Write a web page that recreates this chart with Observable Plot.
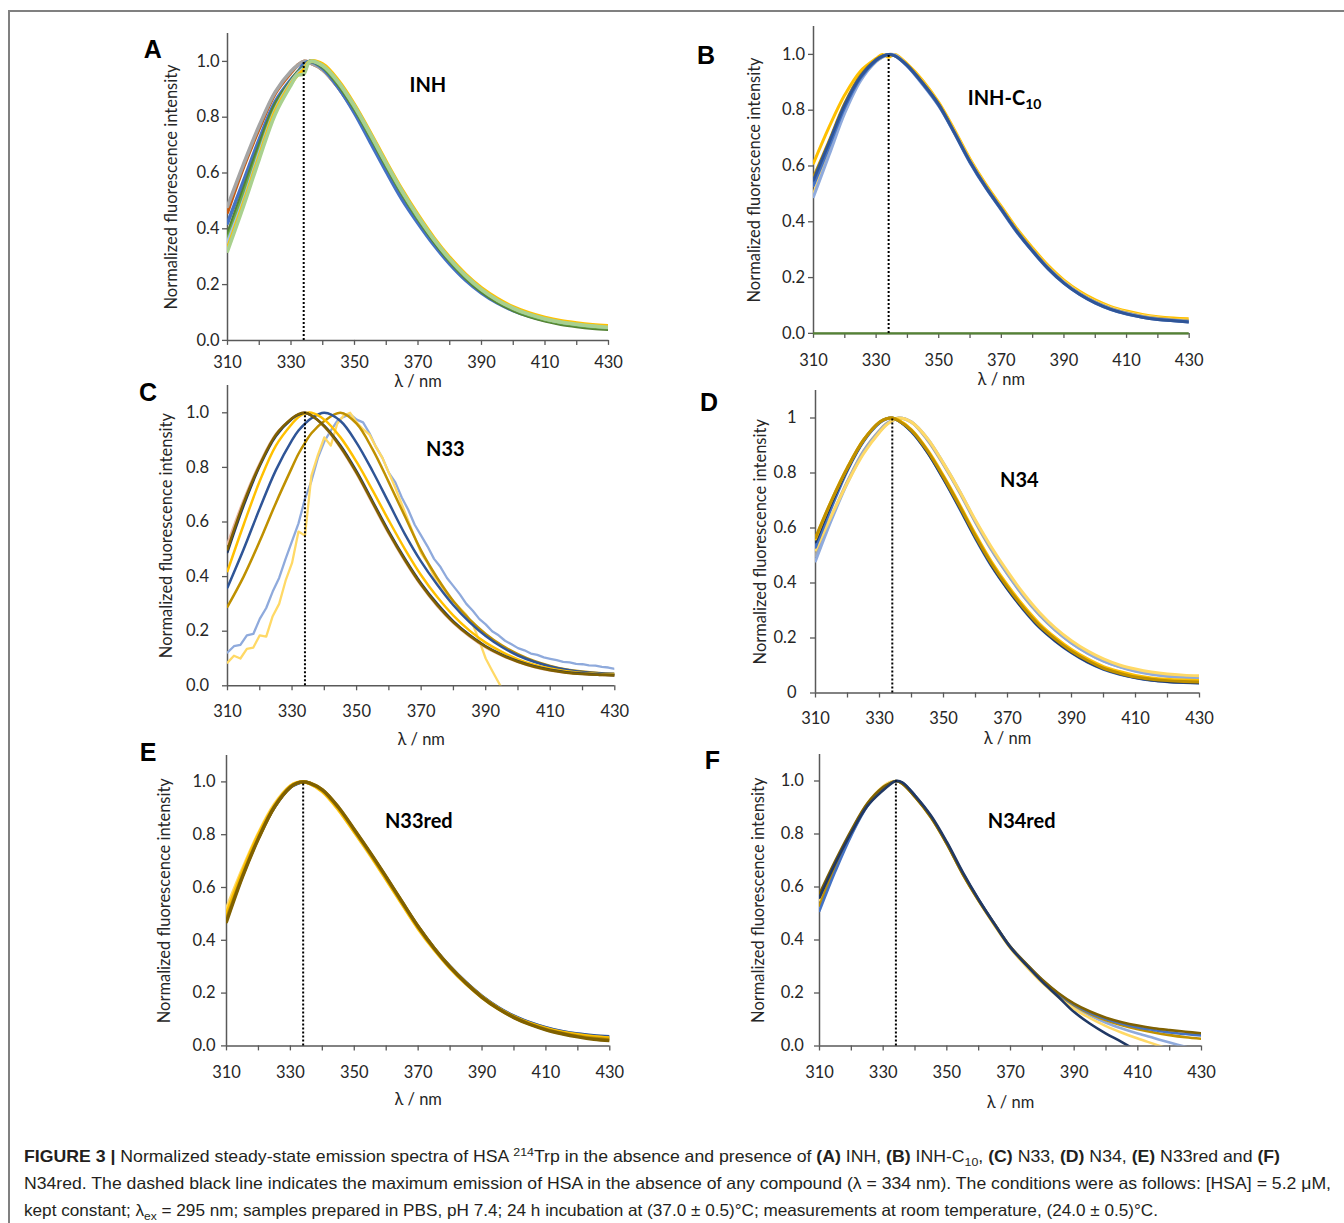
<!DOCTYPE html>
<html>
<head>
<meta charset="utf-8">
<script src="https://cdn.jsdelivr.net/npm/d3@7"></script>
<script src="https://cdn.jsdelivr.net/npm/@observablehq/plot@0.6"></script>
<style>
  html, body { margin: 0; padding: 0; background: #fff; }
  #fig { position: relative; width: 1344px; height: 1223px; overflow: hidden; background: #fff; }
  .btop { position: absolute; left: 8px; top: 10px; width: 1336px; height: 0; border-top: 2px solid #808080; }
  .bleft { position: absolute; left: 8px; top: 10px; width: 0; height: 1213px; border-left: 2px solid #808080; }
  .panel { position: absolute; }
  .letter { position: absolute; font: bold 25px "Liberation Sans", Arial, sans-serif; color: #000; transform: translate(-50%, -50%); line-height: 1; }
  .cap { position: absolute; left: 24px; font-family: "Liberation Sans", Arial, sans-serif; font-size: 16.5px; color: #231f20; white-space: nowrap; line-height: 20px; transform-origin: 0 50%; }
  .cap b { font-weight: bold; }
  .cap sup, .cap sub { font-size: 70%; line-height: 0; }
</style>
</head>
<body>
<div id="fig">
  <div class="btop"></div>
  <div class="bleft"></div>
</div>
<script>
// ---------------- data ----------------
const wl = [310,315,320,325,330,332,334,336,340,345,350,355,360,365,370,375,380,385,390,395,400,405,410,415,420,425,430];
const wl2 = [310,312,314,316,318,320,322,324,326,328,330,332,334,336,338,340,342,344,346,348,350,352,354,356,358,360,362,364,366,368,370,372,374,376,378,380,382,384,386,388,390,392,394,396,398,400,402,404,406,408,410,412,414,416,418,420,422,424,426,428,430];
const xTicks = [310,320,330,340,350,360,370,380,390,400,410,420,430];
const xTickLabels = [310,330,350,370,390,410,430];
const yTicks = [0,0.2,0.4,0.6,0.8,1.0];
const hsaMax = 334;

// Panel A — INH
const A_gray    = [0.48,0.63,0.77,0.89,0.965,0.985,1.0,0.995,0.97,0.905,0.82,0.72,0.615,0.515,0.43,0.35,0.28,0.222,0.175,0.138,0.11,0.09,0.075,0.064,0.056,0.05,0.046];
const A_orange  = [0.46,0.62,0.76,0.885,0.96,0.985,1.0,0.995,0.97,0.905,0.82,0.72,0.615,0.515,0.43,0.35,0.28,0.222,0.175,0.138,0.11,0.09,0.075,0.064,0.056,0.05,0.046];
const A_pink    = [0.36,0.52,0.685,0.835,0.93,0.96,0.98,1.0,0.98,0.915,0.83,0.73,0.625,0.525,0.436,0.356,0.286,0.226,0.178,0.14,0.111,0.09,0.074,0.063,0.055,0.049,0.045];
const A_blue    = [0.42,0.57,0.72,0.855,0.935,0.96,0.99,1.0,0.975,0.905,0.815,0.71,0.605,0.505,0.42,0.342,0.274,0.216,0.17,0.134,0.107,0.087,0.072,0.061,0.053,0.047,0.043];
const A_dkgreen = [0.38,0.54,0.70,0.845,0.93,0.96,0.98,1.0,0.98,0.915,0.83,0.73,0.625,0.525,0.435,0.355,0.284,0.224,0.175,0.137,0.108,0.086,0.07,0.058,0.05,0.044,0.04];
const A_green   = [0.36,0.52,0.68,0.83,0.925,0.955,0.975,1.0,0.983,0.92,0.835,0.735,0.63,0.53,0.44,0.36,0.288,0.228,0.18,0.142,0.113,0.091,0.075,0.063,0.055,0.049,0.045];
const A_ltblue  = [0.35,0.50,0.67,0.825,0.925,0.955,0.975,1.0,0.985,0.925,0.84,0.74,0.635,0.535,0.445,0.363,0.292,0.232,0.183,0.145,0.116,0.094,0.078,0.066,0.058,0.052,0.048];
const A_yellow  = [0.33,0.49,0.66,0.82,0.92,0.95,0.97,1.0,0.99,0.93,0.845,0.745,0.64,0.54,0.45,0.368,0.297,0.237,0.188,0.15,0.12,0.098,0.082,0.07,0.062,0.056,0.052];
const A_ltgreen = [0.32,0.48,0.65,0.81,0.915,0.95,0.955,1.0,0.985,0.925,0.84,0.74,0.635,0.535,0.445,0.363,0.292,0.232,0.183,0.145,0.116,0.094,0.078,0.066,0.058,0.052,0.047];

// Panel B — INH-C10
const B_navy     = [0.55,0.685,0.82,0.92,0.98,0.993,1.0,0.995,0.96,0.895,0.82,0.72,0.615,0.525,0.445,0.365,0.295,0.232,0.18,0.14,0.109,0.086,0.07,0.058,0.05,0.045,0.041];
const B_blue     = [0.53,0.67,0.81,0.915,0.978,0.993,1.0,0.995,0.958,0.893,0.817,0.717,0.612,0.522,0.442,0.362,0.293,0.23,0.179,0.139,0.108,0.085,0.069,0.058,0.05,0.045,0.041];
const B_ltblue   = [0.49,0.64,0.79,0.905,0.975,0.99,1.0,0.997,0.958,0.89,0.815,0.72,0.615,0.525,0.445,0.365,0.296,0.233,0.182,0.142,0.111,0.088,0.072,0.06,0.052,0.047,0.043];
const B_dkgold   = [0.56,0.69,0.825,0.925,0.982,0.995,1.0,0.996,0.962,0.898,0.822,0.722,0.617,0.528,0.448,0.368,0.298,0.235,0.183,0.143,0.112,0.089,0.073,0.061,0.053,0.048,0.044];
const B_ltyellow = [0.50,0.65,0.80,0.91,0.975,0.99,1.0,0.998,0.962,0.90,0.823,0.725,0.62,0.53,0.45,0.37,0.30,0.238,0.186,0.146,0.115,0.092,0.076,0.064,0.056,0.05,0.047];
const B_gold     = [0.61,0.74,0.855,0.94,0.985,1.0,0.99,1.0,0.965,0.905,0.828,0.73,0.625,0.535,0.455,0.375,0.306,0.243,0.191,0.151,0.12,0.096,0.08,0.068,0.06,0.055,0.052];

// Panel C — N33
const C_ltorange = [0.52,0.68,0.815,0.922,0.98,0.995,1.0,0.99,0.948,0.872,0.776,0.666,0.556,0.456,0.367,0.292,0.23,0.181,0.141,0.111,0.087,0.069,0.056,0.048,0.043,0.04,0.038];
const C_olive    = [0.50,0.67,0.81,0.92,0.98,0.995,1.0,0.99,0.95,0.875,0.78,0.67,0.56,0.46,0.37,0.295,0.232,0.183,0.143,0.112,0.088,0.07,0.057,0.048,0.043,0.04,0.038];
const C_navy     = [0.49,0.66,0.805,0.915,0.978,0.993,1.0,0.99,0.952,0.88,0.785,0.675,0.565,0.465,0.375,0.30,0.236,0.186,0.145,0.114,0.09,0.072,0.059,0.05,0.045,0.041,0.039];
const C_gold     = [0.42,0.59,0.75,0.88,0.96,0.985,0.998,1.0,0.975,0.91,0.82,0.715,0.605,0.50,0.405,0.325,0.257,0.202,0.158,0.124,0.097,0.077,0.063,0.053,0.047,0.043,0.041];
const C_blue     = [0.36,0.50,0.65,0.79,0.90,0.935,0.96,0.98,1.0,0.97,0.89,0.785,0.67,0.555,0.455,0.37,0.295,0.233,0.182,0.142,0.111,0.088,0.071,0.059,0.051,0.046,0.043];
const C_dkgold   = [0.29,0.40,0.53,0.67,0.80,0.85,0.89,0.925,0.97,1.0,0.96,0.865,0.745,0.62,0.495,0.395,0.31,0.243,0.19,0.148,0.116,0.091,0.073,0.06,0.052,0.047,0.044];
const C_ltblue   = [0.122,0.145,0.15,0.185,0.19,0.245,0.285,0.345,0.395,0.465,0.53,0.595,0.685,0.75,0.835,0.895,0.935,0.97,0.985,0.995,0.975,0.965,0.925,0.875,0.835,0.78,0.745,0.69,0.645,0.59,0.55,0.51,0.465,0.435,0.395,0.365,0.335,0.30,0.275,0.245,0.225,0.20,0.185,0.165,0.152,0.138,0.13,0.118,0.113,0.104,0.099,0.094,0.088,0.086,0.08,0.079,0.075,0.074,0.069,0.067,0.062];
const C_ltyellow = [0.085,0.11,0.10,0.135,0.14,0.185,0.18,0.255,0.30,0.385,0.45,0.565,0.55,0.77,0.845,0.91,0.88,0.96,0.99,1.0,0.965,0.94,0.92,0.875,0.835,0.78,0.725,0.665,0.605,0.545,0.485,0.45,0.40,0.37,0.335,0.31,0.285,0.26,0.225,0.165,0.10,0.055,0.012,-0.03];

// Panel D — N34
const D_gray     = [0.50,0.64,0.77,0.88,0.955,0.978,0.992,1.0,0.985,0.92,0.83,0.73,0.62,0.52,0.432,0.352,0.284,0.228,0.182,0.146,0.117,0.096,0.081,0.07,0.062,0.058,0.055];
const D_ltblue   = [0.48,0.63,0.765,0.875,0.95,0.975,0.99,1.0,0.985,0.925,0.835,0.735,0.625,0.525,0.435,0.355,0.286,0.229,0.182,0.145,0.116,0.095,0.079,0.068,0.061,0.057,0.054];
const D_ltyellow = [0.52,0.645,0.765,0.87,0.948,0.973,0.99,1.0,0.985,0.925,0.835,0.735,0.628,0.53,0.442,0.362,0.293,0.236,0.19,0.153,0.124,0.102,0.087,0.076,0.069,0.065,0.063];
const D_blue     = [0.53,0.675,0.81,0.915,0.982,0.996,1.0,0.99,0.95,0.875,0.778,0.672,0.562,0.462,0.378,0.303,0.238,0.188,0.146,0.112,0.086,0.068,0.055,0.046,0.041,0.038,0.036];
const D_navy     = [0.55,0.69,0.815,0.918,0.984,0.997,1.0,0.99,0.952,0.876,0.78,0.675,0.565,0.465,0.38,0.305,0.24,0.19,0.148,0.114,0.088,0.07,0.056,0.047,0.042,0.039,0.037];
const D_gold     = [0.56,0.70,0.82,0.92,0.985,0.997,1.0,0.992,0.957,0.884,0.79,0.686,0.577,0.477,0.392,0.317,0.252,0.201,0.158,0.124,0.096,0.078,0.064,0.055,0.05,0.047,0.045];
const D_olive    = [0.565,0.70,0.82,0.92,0.985,0.997,1.0,0.99,0.955,0.88,0.785,0.68,0.57,0.47,0.385,0.31,0.245,0.195,0.152,0.118,0.09,0.072,0.058,0.05,0.045,0.042,0.04];

// Panel E — N33red
const E_ltblue   = [0.50,0.655,0.795,0.908,0.981,0.994,1.0,0.995,0.966,0.898,0.812,0.725,0.633,0.54,0.448,0.368,0.298,0.238,0.187,0.145,0.112,0.087,0.068,0.054,0.044,0.037,0.033];
const E_blue     = [0.49,0.65,0.79,0.905,0.98,0.993,1.0,0.995,0.968,0.90,0.815,0.728,0.636,0.542,0.45,0.37,0.30,0.24,0.188,0.146,0.113,0.088,0.069,0.055,0.045,0.039,0.035];
const E_ltyellow = [0.52,0.67,0.805,0.915,0.985,0.997,1.0,0.994,0.963,0.895,0.81,0.722,0.63,0.536,0.444,0.364,0.294,0.234,0.183,0.141,0.108,0.083,0.064,0.05,0.04,0.033,0.028];
const E_gold     = [0.50,0.66,0.80,0.91,0.983,0.996,1.0,0.994,0.965,0.897,0.812,0.725,0.632,0.538,0.446,0.366,0.296,0.236,0.185,0.143,0.11,0.085,0.066,0.052,0.042,0.035,0.03];
const E_dkgold   = [0.48,0.645,0.788,0.906,0.981,0.995,1.0,0.996,0.97,0.903,0.818,0.73,0.638,0.544,0.451,0.37,0.299,0.238,0.186,0.143,0.109,0.083,0.063,0.048,0.037,0.029,0.024];
const E_olive    = [0.47,0.64,0.785,0.905,0.98,0.995,1.0,0.995,0.97,0.905,0.82,0.732,0.64,0.545,0.452,0.37,0.298,0.237,0.184,0.141,0.107,0.081,0.061,0.046,0.034,0.025,0.02];

// Panel F — N34red
const F_ltblue   = [0.52,0.67,0.80,0.907,0.975,0.992,1.0,0.993,0.945,0.865,0.765,0.65,0.55,0.457,0.37,0.303,0.242,0.19,0.148,0.115,0.088,0.066,0.047,0.03,0.013,-0.003,-0.02];
const F_ltyellow = [0.55,0.69,0.81,0.915,0.98,0.995,1.0,0.99,0.94,0.862,0.762,0.648,0.548,0.455,0.368,0.30,0.238,0.185,0.14,0.105,0.075,0.05,0.028,0.008,-0.012,-0.03,-0.05];
const F_dkgold   = [0.53,0.675,0.80,0.91,0.975,0.99,1.0,0.99,0.94,0.862,0.762,0.648,0.548,0.457,0.371,0.306,0.246,0.195,0.153,0.121,0.097,0.078,0.063,0.051,0.041,0.033,0.027];
const F_blue     = [0.51,0.66,0.795,0.905,0.972,0.99,1.0,0.993,0.945,0.866,0.766,0.652,0.552,0.46,0.374,0.309,0.248,0.197,0.156,0.125,0.102,0.084,0.07,0.06,0.051,0.045,0.04];
const F_olive    = [0.575,0.70,0.815,0.915,0.977,0.99,1.0,0.99,0.94,0.864,0.764,0.65,0.55,0.46,0.374,0.31,0.25,0.20,0.16,0.13,0.107,0.09,0.077,0.067,0.06,0.054,0.048];
const F_navy     = [0.56,0.69,0.805,0.905,0.965,0.985,1.0,0.995,0.945,0.87,0.77,0.656,0.553,0.46,0.372,0.305,0.242,0.186,0.128,0.084,0.047,0.015,-0.02,-0.05,-0.08,-0.1,-0.12];

const compoundLabels = ["INH", "INH-C", "N33", "N34", "N33red", "N34red"];
const panelLetters = ["A", "B", "C", "D", "E", "F"];

// ---------------- styles / layout ----------------
const col = {
  navy: "#203864", dkblue: "#2F5597", blue: "#4472C4", ltblue: "#8FAADC", skyblue: "#9DC3E6",
  olive: "#7F6000", dkgold: "#BF9000", gold: "#FFC000", ltyellow: "#FFD966",
  gray: "#A5A5A5", orange: "#C55A11", pink: "#D5B9B2", ltorange: "#E9B7A0",
  dkgreen: "#548235", green: "#70AD47", ltgreen: "#A9D18E"
};
const axisColor = "#595959";

const panels = [
  { letter: 0, lx: 152.8, ly: 49, x0: 226.7, x1: 607.7, yTop: 33.1, y0: 340, lw: 3.6,
    yPad: 3, xPad: 11, yLabOff: 62, xLabOff: 47, fmt: d3.format(".1f"),
    label: {t: 0, x: 373.1, y: 0.914},
    series: [[A_orange, col.orange], [A_gray, col.gray], [A_pink, col.pink], [A_blue, col.blue], [A_dkgreen, col.dkgreen], [A_green, col.green], [A_ltblue, col.skyblue], [A_yellow, col.gold], [A_ltgreen, col.ltgreen]] },
  { letter: 1, lx: 706, ly: 55, x0: 813.3, x1: 1189, yTop: 26.4, y0: 333.3, lw: 3,
    yPad: 3.5, xPad: 15.7, yLabOff: 65, xLabOff: 52, fmt: d3.format(".1f"), zeroLine: col.dkgreen,
    label: {t: 1, x: 377.6, y: 0.842, sub: "10"},
    series: [[B_gold, col.gold], [B_ltyellow, col.ltyellow], [B_dkgold, col.dkgold], [B_ltblue, col.ltblue], [B_blue, col.blue], [B_navy, col.dkblue]] },
  { letter: 2, lx: 148, ly: 392, x0: 226.7, x1: 614, yTop: 384.7, y0: 685, lw: 2.5,
    yPad: 13.5, xPad: 14, yLabOff: 67, xLabOff: 59, fmt: d3.format(".1f"),
    label: {t: 2, x: 377.5, y: 0.864},
    series: [[C_ltorange, col.ltorange], [C_dkgold, col.dkgold], [C_blue, col.dkblue], [C_gold, col.gold], [C_navy, col.navy], [C_olive, col.olive]],
    jagged: [[C_ltblue, col.ltblue], [C_ltyellow, col.ltyellow]] },
  { letter: 3, lx: 709, ly: 402, x0: 815, x1: 1199, yTop: 389.8, y0: 692.3, lw: 3,
    yPad: 14, xPad: 14.7, yLabOff: 61, xLabOff: 51, fmt: d3.format("~g"),
    label: {t: 3, x: 373.7, y: 0.772},
    series: [[D_gray, col.gray], [D_ltblue, col.ltblue], [D_ltyellow, col.ltyellow], [D_blue, col.blue], [D_navy, col.navy], [D_gold, col.gold], [D_olive, col.dkgold]] },
  { letter: 4, lx: 148, ly: 752, x0: 225.7, x1: 609, yTop: 755.3, y0: 1045.7, lw: 3.4,
    yPad: 6, xPad: 15, yLabOff: 68, xLabOff: 59, fmt: d3.format(".1f"),
    label: {t: 4, x: 370.2, y: 0.851},
    series: [[E_ltblue, col.ltblue], [E_blue, col.dkblue], [E_ltyellow, col.ltyellow], [E_gold, col.gold], [E_dkgold, col.dkgold], [E_olive, col.olive]] },
  { letter: 5, lx: 712.5, ly: 760, x0: 819, x1: 1201, yTop: 754.2, y0: 1045.7, lw: 2.6,
    yPad: 10.7, xPad: 15, yLabOff: 67, xLabOff: 62, fmt: d3.format(".1f"),
    label: {t: 5, x: 373.5, y: 0.845},
    series: [[F_ltblue, col.ltblue], [F_ltyellow, col.ltyellow], [F_dkgold, col.dkgold], [F_blue, col.blue], [F_olive, col.olive], [F_navy, col.navy]] }
];

const fig = document.getElementById("fig");
const mL = 100, mR = 24, mT = 12, mB = 70;

function toRows(values, grid) { return values.map((v, i) => ({x: grid[i], y: v})); }

for (const p of panels) {
  const fw = p.x1 - p.x0, fh = p.y0 - p.yTop;
  const marks = [
    Plot.axisX({ticks: xTicks, tickFormat: d => xTickLabels.includes(d) ? String(d) : "", tickSize: 5, tickPadding: p.xPad,
      stroke: axisColor, strokeWidth: 1.3, label: "λ / nm", labelAnchor: "center", labelOffset: p.xLabOff, labelArrow: "none"}),
    Plot.axisY({ticks: yTicks, tickFormat: p.fmt, tickSize: 5, tickPadding: p.yPad,
      stroke: axisColor, strokeWidth: 1.3, label: "Normalized fluorescence intensity", labelAnchor: "center", labelOffset: p.yLabOff, labelArrow: "none"}),
    Plot.ruleX([310], {y1: 0, y2: 1.1, stroke: axisColor, strokeWidth: 1.5}),
    Plot.ruleY([0], {stroke: axisColor, strokeWidth: 1.5})
  ];
  for (const [vals, c] of (p.jagged || [])) {
    marks.push(Plot.line(toRows(vals, wl2), {x: "x", y: "y", stroke: c, strokeWidth: 2.3, clip: true}));
  }
  for (const [vals, c] of p.series) {
    marks.push(Plot.line(toRows(vals, wl), {x: "x", y: "y", stroke: c, strokeWidth: p.lw, curve: "catmull-rom", clip: true}));
  }
  if (p.zeroLine) marks.push(Plot.ruleY([0], {stroke: p.zeroLine, strokeWidth: 2.2}));
  marks.push(Plot.ruleX([hsaMax], {y1: 0, y2: 1, stroke: "#000", strokeWidth: 2, strokeDasharray: "2,2"}));
  const L = p.label;
  if (L.sub) {
    marks.push(Plot.text([L], {x: "x", y: "y", text: () => compoundLabels[L.t], textAnchor: "end", fontWeight: "bold", fontSize: 20, fill: "#000"}));
    marks.push(Plot.text([L], {x: "x", y: "y", text: () => L.sub, textAnchor: "start", dy: 6, fontWeight: "bold", fontSize: 14, fill: "#000"}));
  } else {
    marks.push(Plot.text([L], {x: "x", y: "y", text: () => compoundLabels[L.t], fontWeight: "bold", fontSize: 20, fill: "#000"}));
  }
  const svg = Plot.plot({
    width: mL + fw + mR, height: mT + fh + mB,
    marginLeft: mL, marginRight: mR, marginTop: mT, marginBottom: mB,
    style: {fontFamily: "Lato, 'Open Sans', sans-serif", fontSize: "16.5px", color: "#262626", background: "transparent", overflow: "visible"},
    x: {domain: [310, 430]},
    y: {domain: [0, 1.1]},
    marks
  });
  const wrap = document.createElement("div");
  wrap.className = "panel";
  wrap.style.left = (p.x0 - mL) + "px";
  wrap.style.top = (p.yTop - mT) + "px";
  wrap.appendChild(svg);
  fig.appendChild(wrap);

  const let_ = document.createElement("div");
  let_.className = "letter";
  let_.textContent = panelLetters[p.letter];
  let_.style.left = p.lx + "px";
  let_.style.top = p.ly + "px";
  fig.appendChild(let_);
}

// ---------------- caption ----------------
const captionLines = [
  '<b>FIGURE 3 |</b> Normalized steady-state emission spectra of HSA <sup>214</sup>Trp in the absence and presence of <b>(A)</b> INH, <b>(B)</b> INH-C<sub>10</sub>, <b>(C)</b> N33, <b>(D)</b> N34, <b>(E)</b> N33red and <b>(F)</b>',
  'N34red. The dashed black line indicates the maximum emission of HSA in the absence of any compound (λ = 334 nm). The conditions were as follows: [HSA] = 5.2 μM,',
  'kept constant; λ<sub>ex</sub> = 295 nm; samples prepared in PBS, pH 7.4; 24 h incubation at (37.0 ± 0.5)°C; measurements at room temperature, (24.0 ± 0.5)°C.'
];
const capCenters = [1156, 1183, 1210];
const capRight = [1280, 1331, 1158];
captionLines.forEach((html, i) => {
  const d = document.createElement("div");
  d.className = "cap";
  d.innerHTML = html;
  d.style.top = (capCenters[i] - 10) + "px";
  fig.appendChild(d);
  const w = d.getBoundingClientRect().width;
  d.style.transform = `scaleX(${(capRight[i] - 24) / w})`;
});
</script>
</body>
</html>
